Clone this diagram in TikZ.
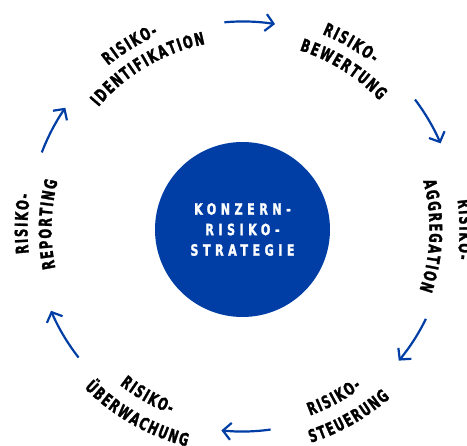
\documentclass[tikz,border=0pt]{standalone}
\usepackage{fontspec}
\setmainfont{DejaVu Sans}
\newfontfamily\lblfont[FakeStretch=0.66,FakeBold=1.5]{DejaVu Sans}
\newfontfamily\ctrfont[FakeStretch=0.72,FakeBold=1.5,LetterSpace=29]{DejaVu Sans}
\usetikzlibrary{arrows.meta,decorations.text}

\definecolor{konzernblau}{RGB}{0,62,165}

\tikzset{
  pfeil/.style={konzernblau, line width=2.2pt, -{Straight Barb[length=8pt,width=17pt,line width=2.2pt]}},
  bogentext/.style={decorate, font=\lblfont\bfseries\fontsize{17.5}{17.5}\selectfont,
    decoration={text effects along path, text={#1}, text align=center,
      text effects/.cd, text along path, character widths={inner xsep=0.8pt}}}
}

\begin{document}
\begin{tikzpicture}

\useasboundingbox (-242.5pt,-216.5pt) rectangle (224.5pt,229.5pt);
\clip (-242.5pt,-216.5pt) rectangle (224.5pt,229.5pt);

% strategy in the middle
\node[circle, fill=konzernblau, minimum size=175pt, inner sep=0pt, text=white, align=center,
  font=\ctrfont\bfseries\fontsize{15.5}{20.5}\selectfont] (strategie) at (0,0)
  {KONZERN-\\RISIKO-\\STRATEGIE};

% labels, upper half (clockwise), lower half (counter-clockwise)
\path[bogentext={RISIKO-}] (161.4:212pt) arc[start angle=161.4, end angle=81.4, radius=212pt];
\path[bogentext={IDENTIFIKATION}] (160.5:189pt) arc[start angle=160.5, end angle=80.5, radius=189pt];

\path[bogentext={RISIKO-}] (99.8:211pt) arc[start angle=99.8, end angle=19.8, radius=211pt];
\path[bogentext={BEWERTUNG}] (97.8:188pt) arc[start angle=97.8, end angle=17.8, radius=188pt];

\path[bogentext={RISIKO-}] (40:217pt) arc[start angle=40, end angle=-40, radius=217pt];
\path[bogentext={AGGREGATION}] (38.1:187pt) arc[start angle=38.1, end angle=-41.9, radius=187pt];

\path[bogentext={RISIKO-}] (218.5:215pt) arc[start angle=218.5, end angle=138.5, radius=215pt];
\path[bogentext={REPORTING}] (218.5:191pt) arc[start angle=218.5, end angle=138.5, radius=191pt];

\path[bogentext={RISIKO-}] (-101.5:198pt) arc[start angle=-101.5, end angle=-21.5, radius=198pt];
\path[bogentext={STEUERUNG}] (-100.5:224pt) arc[start angle=-100.5, end angle=-20.5, radius=224pt];

\path[bogentext={RISIKO-}] (200.2:198pt) arc[start angle=200.2, end angle=280.2, radius=198pt];
\path[bogentext={ÜBERWACHUNG}] (200.3:224pt) arc[start angle=200.3, end angle=280.3, radius=224pt];

% arrows between the steps
\foreach \a/\b/\r in {95/81/208, 37/23.5/216, -26/-40/204, -82/-96/202, 218/203/208, 159/145.5/215}
  \draw[pfeil] (\a:\r pt) arc[start angle=\a, end angle=\b, radius=\r pt];

\end{tikzpicture}
\end{document}
